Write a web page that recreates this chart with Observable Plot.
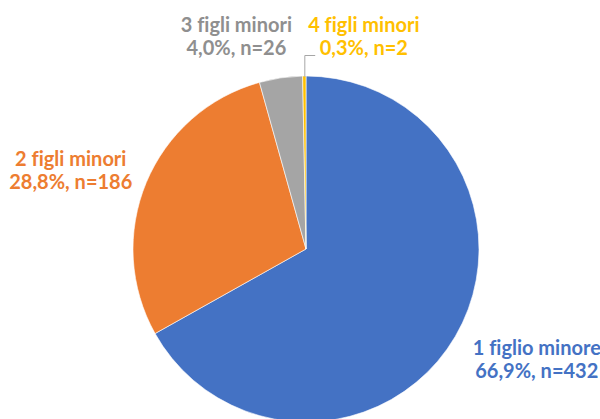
<!DOCTYPE html>
<html>
<head>
<meta charset="utf-8">
<script src="https://cdn.jsdelivr.net/npm/d3@7"></script>
<script src="https://cdn.jsdelivr.net/npm/@observablehq/plot@0.6"></script>
<style>
  html, body { margin: 0; padding: 0; background: #fff; }
  #chart svg { display: block; }
  #chart text { font-variant-ligatures: none; font-feature-settings: "liga" 0; }
</style>
</head>
<body>
<div id="chart"></div>
<script>
// ---- data ----
const categories = ["1 figlio minore", "2 figli minori", "3 figli minori", "4 figli minori"];
const counts = [432, 186, 26, 2];
const percentLabels = ["66,9%", "28,8%", "4,0%", "0,3%"];
const colors = ["#4472C4", "#ED7D31", "#A5A5A5", "#FFC000"];
const labelColors = ["#4472C4", "#ED7D31", "#8F8F8F", "#FFC000"];

// ---- layout (pixels) ----
const W = 600, H = 419;
const cx = 306, cy = 249, R = 173;
// label offsets from the slice's outer mid-point, in pixels
const labelDx = [81, -76, -45, 59];
const labelDy = [22, -13, -42, -40];

const rows = categories.map((c, i) => ({
  cat: c, n: counts[i], pct: percentLabels[i], color: colors[i], lcolor: labelColors[i]
}));
const arcs = d3.pie().sort(null).value(d => d.n)(rows);

// label anchors in scale units (radius = 1, y up)
const labels = arcs.map((a, i) => {
  const m = (a.startAngle + a.endAngle) / 2;
  return {
    x: Math.sin(m) + labelDx[i] / R,
    y: Math.cos(m) - labelDy[i] / R,
    text: `${a.data.cat}\n${a.data.pct}, n=${a.data.n}`,
    color: a.data.lcolor
  };
});

// leader line for the tiny slice
const tiny = arcs[3];
const tm = (tiny.startAngle + tiny.endAngle) / 2;
const leader = [
  {x: Math.sin(tm), y: Math.cos(tm)},
  {x: Math.sin(tm), y: 1 + 21 / R},
  {x: Math.sin(tm) + 10 / R, y: 1 + 21 / R}
];

const pieMark = (index, scales) => {
  const x0 = scales.x(0), y0 = scales.y(0);
  const r = scales.x(1) - scales.x(0);
  const arcGen = d3.arc().innerRadius(0).outerRadius(r);
  const g = d3.create("svg:g").attr("transform", `translate(${x0},${y0})`);
  g.selectAll("path").data(arcs).join("path")
    .attr("d", arcGen)
    .attr("fill", d => d.data.color)
    .attr("stroke", "#fff")
    .attr("stroke-width", 0.6);
  return g.node();
};

const chart = Plot.plot({
  width: W,
  height: H,
  margin: 0,
  x: {domain: [-1, 1], range: [cx - R, cx + R], axis: null},
  y: {domain: [-1, 1], range: [cy + R, cy - R], axis: null},
  style: {background: "#fff"},
  marks: [
    pieMark,
    Plot.line(leader, {x: "x", y: "y", stroke: "#A6A6A6", strokeWidth: 1}),
    Plot.text(labels, {
      x: "x", y: "y", text: "text", fill: "color",
      fontSize: 20, fontWeight: "bold", fontFamily: "Lato",
      lineHeight: 1.15, lineAnchor: "middle", textAnchor: "middle"
    })
  ]
});
document.getElementById("chart").appendChild(chart);
</script>
</body>
</html>
